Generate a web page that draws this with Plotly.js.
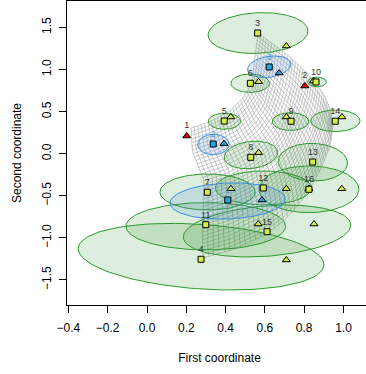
<!DOCTYPE html>
<html>
<head>
<meta charset="utf-8">
<script src="https://cdn.plot.ly/plotly-3.0.1.min.js"></script>
<style>
html,body{margin:0;padding:0;overflow:hidden;background:#fff;}
#chart{width:374px;height:374px;}
</style>
</head>
<body>
<div id="chart"></div>
<script>
// ---------- data ----------
// first-configuration points (squares), labels 3..16
const sqLabels = ['3','4','5','6','7','8','9','10','11','12','13','14','15','16'];
const sqX = [0.563, 0.275, 0.393, 0.526, 0.307, 0.528, 0.733, 0.860, 0.299, 0.592, 0.843, 0.958, 0.611, 0.824];
const sqY = [1.433, -1.254, 0.388, 0.836, -0.458, -0.043, 0.385, 0.852, -0.843, -0.407, -0.099, 0.385, -0.926, -0.423];
// blue squares, labels 1..3
const bsqLabels = ['1','2','3'];
const bsqX = [0.411, 0.337, 0.622];
const bsqY = [-0.550, 0.115, 1.030];
// triangles (second configuration)
const triX = [0.709, 0.568, 0.847, 0.426, 0.709, 0.992, 0.568, 0.427, 0.709, 0.991, 0.824, 0.566, 0.850, 0.709];
const triY = [1.279, 0.855, 0.863, 0.436, 0.436, 0.436, 0.012, -0.416, -0.416, -0.416, -0.413, -0.835, -0.835, -1.262];
const ctriX = [0.673, 0.392, 0.585];
const ctriY = [0.958, 0.119, -0.550];
const rtriLabels = ['1','2'];
const rtriX = [0.202, 0.803];
const rtriY = [0.210, 0.804];

// green ellipses: centre, half-widths, tilt
const gelCx = [0.565, 0.275, 0.394, 0.525, 0.308, 0.529, 0.730, 0.865, 0.299, 0.592, 0.844, 0.959, 0.611, 0.824];
const gelCy = [1.433, -1.223, 0.385, 0.837, -0.455, -0.015, 0.382, 0.852, -0.862, -0.407, -0.101, 0.391, -0.918, -0.423];
const gelAx = [0.254, 0.625, 0.082, 0.098, 0.242, 0.136, 0.093, 0.048, 0.406, 0.244, 0.176, 0.125, 0.426, 0.254];
const gelBy = [0.241, 0.384, 0.095, 0.109, 0.214, 0.162, 0.105, 0.057, 0.281, 0.202, 0.223, 0.128, 0.300, 0.277];
const gelK  = [0.024, -0.095, 0, 0, 0, 0.027, 0, 0, 0, 0, -0.01, 0, 0.071, 0];
// blue ellipses
const belCx = [0.410, 0.338, 0.622];
const belCy = [-0.562, 0.109, 1.032];
const belAx = [0.293, 0.080, 0.110];
const belBy = [0.214, 0.121, 0.125];
const belK  = [0.024, 0, 0.03];

// mesh boundary curves
const meshTRx = [0.565, 0.651, 0.728, 0.789, 0.845, 0.896, 0.931, 0.947];
const meshTRy = [1.433, 1.291, 1.148, 1.018, 0.875, 0.721, 0.543, 0.353];
const meshTLx = [0.565, 0.550, 0.529, 0.489, 0.422, 0.331, 0.224];
const meshTLy = [1.433, 1.113, 0.816, 0.662, 0.507, 0.388, 0.305];
const meshLBx = [0.224, 0.229, 0.260, 0.290, 0.285, 0.280, 0.285];
const meshLBy = [0.305, 0.044, -0.158, -0.312, -0.669, -0.966, -1.239];
const meshRBx = [0.947, 0.936, 0.901, 0.850, 0.779, 0.702, 0.601, 0.448, 0.285];
const meshRBy = [0.353, 0.127, -0.099, -0.336, -0.586, -0.787, -0.966, -1.132, -1.239];

const xTicks = [-0.4, -0.2, 0.0, 0.2, 0.4, 0.6, 0.8, 1.0];
const yTicks = [-1.5, -1.0, -0.5, 0.0, 0.5, 1.0, 1.5];

// ---------- helpers ----------
function polyAt(xs, ys, s) {
  const L = [0];
  for (let i = 1; i < xs.length; i++) {
    const dx = xs[i]-xs[i-1], dy = (ys[i]-ys[i-1])*0.43;
    L.push(L[i-1] + Math.sqrt(dx*dx+dy*dy));
  }
  const t = s * L[L.length-1];
  for (let i = 1; i < xs.length; i++) {
    if (t <= L[i] || i === xs.length-1) {
      const f = (L[i]-L[i-1]) > 0 ? (t-L[i-1])/(L[i]-L[i-1]) : 0;
      return [xs[i-1] + f*(xs[i]-xs[i-1]), ys[i-1] + f*(ys[i]-ys[i-1])];
    }
  }
}
function coons(u, v) {
  const c0 = polyAt(meshTRx, meshTRy, u), c1 = polyAt(meshLBx, meshLBy, u);
  const d0 = polyAt(meshTLx, meshTLy, v), d1 = polyAt(meshRBx, meshRBy, v);
  const T = [meshTRx[0], meshTRy[0]], R = [meshTRx[meshTRx.length-1], meshTRy[meshTRy.length-1]];
  const Lp = [meshLBx[0], meshLBy[0]], B = [meshLBx[meshLBx.length-1], meshLBy[meshLBy.length-1]];
  const out = [];
  for (let k = 0; k < 2; k++) {
    out.push((1-v)*c0[k] + v*c1[k] + (1-u)*d0[k] + u*d1[k]
      - ((1-u)*(1-v)*T[k] + u*(1-v)*R[k] + (1-u)*v*Lp[k] + u*v*B[k]));
  }
  return out;
}
const meshX = [], meshY = [];
const NL = 36, NS = 40;
for (let i = 0; i <= NL; i++) {
  const a = i/NL;
  for (let j = 0; j <= NS; j++) { const p = coons(a, j/NS); meshX.push(p[0]); meshY.push(p[1]); }
  meshX.push(null); meshY.push(null);
  for (let j = 0; j <= NS; j++) { const p = coons(j/NS, a); meshX.push(p[0]); meshY.push(p[1]); }
  meshX.push(null); meshY.push(null);
}

function ellipse(cx, cy, ax, by, k) {
  const xs = [], ys = [];
  for (let i = 0; i <= 120; i++) {
    const t = 2*Math.PI*i/120;
    xs.push(cx + ax*Math.cos(t));
    ys.push(cy + by*Math.sin(t) + k*Math.cos(t));
  }
  return [xs, ys];
}

const traces = [];
traces.push({x: meshX, y: meshY, mode: 'lines', line: {color: 'rgba(150,150,150,0.85)', width: 0.6}, hoverinfo: 'skip'});

for (let i = 0; i < gelCx.length; i++) {
  const e = ellipse(gelCx[i], gelCy[i], gelAx[i], gelBy[i], gelK[i]);
  traces.push({x: e[0], y: e[1], mode: 'lines', fill: 'toself', fillcolor: 'rgba(34,139,34,0.15)',
    line: {color: '#2a9a2a', width: 1}, hoverinfo: 'skip'});
}
for (let i = 0; i < belCx.length; i++) {
  const e = ellipse(belCx[i], belCy[i], belAx[i], belBy[i], belK[i]);
  traces.push({x: e[0], y: e[1], mode: 'lines', fill: 'toself', fillcolor: 'rgba(70,140,220,0.18)',
    line: {color: '#3a8ee0', width: 1}, hoverinfo: 'skip'});
}

const lblFont = 'Liberation Sans, Arial, sans-serif';
traces.push({x: triX, y: triY, mode: 'markers', marker: {symbol: 'triangle-up', size: 7, color: '#d2ee4a', line: {color: '#000', width: 1}}});
traces.push({x: ctriX, y: ctriY, mode: 'markers', marker: {symbol: 'triangle-up', size: 7, color: '#1fa8e0', line: {color: '#000', width: 1}}});
traces.push({x: rtriX, y: rtriY, text: rtriLabels, mode: 'markers+text', textposition: 'top center',
  textfont: {size: 9, color: '#333', family: lblFont},
  marker: {symbol: 'triangle-up', size: 7, color: '#e00000', line: {color: '#000', width: 1}}});
traces.push({x: sqX, y: sqY, text: sqLabels, mode: 'markers+text', textposition: 'top center',
  textfont: {size: 9, color: '#333', family: lblFont},
  marker: {symbol: 'square', size: 6, color: '#d2ee4a', line: {color: '#000', width: 1}}});
traces.push({x: bsqX, y: bsqY, text: bsqLabels, mode: 'markers+text', textposition: 'top center',
  textfont: {size: 9, color: '#4a9ee6', family: lblFont},
  marker: {symbol: 'square', size: 6, color: '#1fa8e0', line: {color: '#000', width: 1}}});

const font = {family: 'Liberation Sans, Arial, sans-serif', size: 12, color: '#000'};
const layout = {
  width: 374, height: 374,
  margin: {l: 67, r: 2, t: 1, b: 69},
  showlegend: false,
  paper_bgcolor: '#fff', plot_bgcolor: '#fff',
  font: font,
  xaxis: {
    range: [-0.4071, 1.1450], tickvals: xTicks, tickformat: '.1f',
    ticks: 'outside', ticklen: 7, tickcolor: '#000', tickwidth: 1, ticklabelstandoff: 5,
    showline: true, linecolor: '#000', linewidth: 1, mirror: true,
    showgrid: false, zeroline: false, tickfont: font,
    title: {text: 'First coordinate', font: font, standoff: 19}
  },
  yaxis: {
    range: [-1.797, 1.8135], tickvals: yTicks, tickformat: '.1f', tickangle: -90,
    ticks: 'outside', ticklen: 7, tickcolor: '#000', tickwidth: 1, ticklabelstandoff: 3,
    showline: true, linecolor: '#000', linewidth: 1, mirror: true,
    showgrid: false, zeroline: false, tickfont: font,
    title: {text: 'Second coordinate', font: font, standoff: 16}
  }
};
Plotly.newPlot('chart', traces, layout, {displayModeBar: false, staticPlot: true});
</script>
</body>
</html>
